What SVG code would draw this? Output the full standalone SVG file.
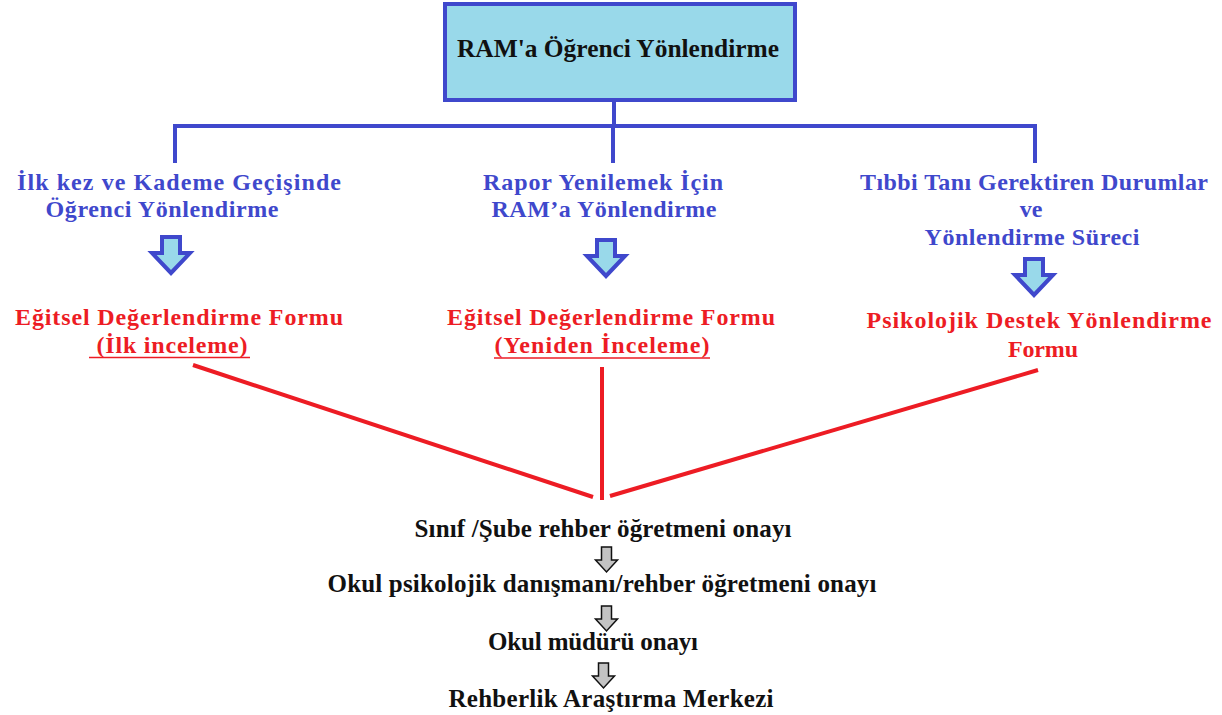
<svg xmlns="http://www.w3.org/2000/svg" width="1222" height="715" viewBox="0 0 1222 715">
<style>
text{font-family:"Liberation Serif","Times New Roman",serif;font-weight:bold;text-anchor:middle}
.t{font-size:25px;fill:#111}
.b{font-size:24px;fill:#3f48cc}
.r{font-size:24px;fill:#ed1c24}
.k{font-size:25px;fill:#111}
.bl{stroke:#3f48cc;stroke-width:4;fill:none}
.rl{stroke:#ed1c24;stroke-width:4;fill:none}
.ul{stroke:#ed1c24;stroke-width:1.5}
.ba{fill:#99d9ea;stroke:#3f48cc;stroke-width:4;stroke-linejoin:miter}
.ga{fill:#c3c3c3;stroke:#111;stroke-width:1.5}
</style>
<rect width="1222" height="715" fill="#fff"/>
<g id="connectors">
<path class="bl" d="M614 100V126M175 163V126H1035V163M613 126V163"/>
<line class="rl" x1="193" y1="365" x2="593" y2="497"/>
<line class="rl" x1="602" y1="367" x2="602" y2="500"/>
<line class="rl" x1="610" y1="496" x2="1038" y2="370"/>
<path class="ba" d="M162 237H180V253H190L171 273L152 253H162Z"/>
<path class="ba" d="M597 240H615V256H625L606 276L587 256H597Z"/>
<path class="ba" d="M1025 259H1043V275H1053L1034 295L1015 275H1025Z"/>
<path class="ga" d="M601.5 547H611.5V560H617.5L606.5 572L595.5 560H601.5Z"/>
<path class="ga" d="M601.5 606H611.5V619H617.5L606.5 631L595.5 619H601.5Z"/>
<path class="ga" d="M598.5 663H608.5V676H614.5L603.5 688L592.5 676H598.5Z"/>
</g>
<g id="root">
<rect x="445" y="4" width="350" height="96" fill="#99d9ea" stroke="#3f48cc" stroke-width="4"/>
<text class="t" x="618" y="57" textLength="322" lengthAdjust="spacingAndGlyphs">RAM'a Öğrenci Yönlendirme</text>
</g>
<g id="branch1">
<text class="b" x="179" y="190" textLength="324">İlk kez ve Kademe Geçişinde</text>
<text class="b" x="162" y="217" textLength="233">Öğrenci Yönlendirme</text>
</g>
<g id="branch2">
<text class="b" x="603" y="190" textLength="240">Rapor Yenilemek İçin</text>
<text class="b" x="604" y="217" textLength="225">RAM’a Yönlendirme</text>
</g>
<g id="branch3">
<text class="b" x="1034" y="190" textLength="348">Tıbbi Tanı Gerektiren Durumlar</text>
<text class="b" x="1031" y="217">ve</text>
<text class="b" x="1032" y="245" textLength="215">Yönlendirme Süreci</text>
</g>
<g id="form1">
<text class="r" x="179" y="325" textLength="328">Eğitsel Değerlendirme Formu</text>
<text class="r" x="172" y="353" textLength="151">(İlk inceleme)</text>
<line class="ul" x1="89" y1="357.5" x2="250" y2="357.5"/>
</g>
<g id="form2">
<text class="r" x="611" y="325" textLength="328">Eğitsel Değerlendirme Formu</text>
<text class="r" x="602" y="353" textLength="215">(Yeniden İnceleme)</text>
<line class="ul" x1="494" y1="358" x2="710" y2="358"/>
</g>
<g id="form3">
<text class="r" x="1039" y="328" textLength="345">Psikolojik Destek Yönlendirme</text>
<text class="r" x="1043" y="357" textLength="70">Formu</text>
</g>
<g id="step1"><text class="k" x="603" y="537" textLength="377">Sınıf /Şube rehber öğretmeni onayı</text></g>
<g id="step2"><text class="k" x="602" y="592" textLength="549">Okul psikolojik danışmanı/rehber öğretmeni onayı</text></g>
<g id="step3"><text class="k" x="593" y="650" textLength="210">Okul müdürü onayı</text></g>
<g id="step4"><text class="k" x="611" y="707" textLength="325">Rehberlik Araştırma Merkezi</text></g>
</svg>
